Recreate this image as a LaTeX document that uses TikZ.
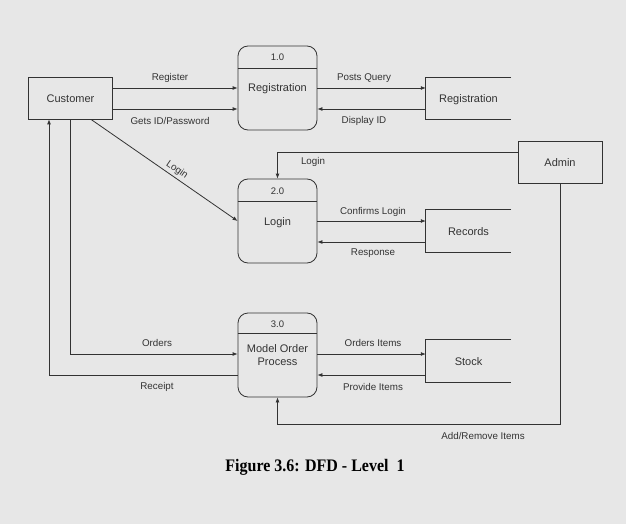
\documentclass[tikz,border=0pt]{standalone}
\usepackage{fontspec}
\setmainfont{Liberation Sans}
\newfontfamily\capfont{Liberation Serif}
\usetikzlibrary{arrows.meta}
\definecolor{bg}{HTML}{E7E7E7}
\definecolor{ln}{HTML}{333333}
\definecolor{txt}{HTML}{333333}
\begin{document}
\begin{tikzpicture}[x=1pt,y=-1pt,
  every node/.style={text=txt, inner sep=0pt},
  entity/.style={draw=ln, line width=0.8pt, minimum width=84pt, minimum height=42pt, font=\fontsize{11}{13}\selectfont},
  store/.style={minimum width=85pt, minimum height=42pt, font=\fontsize{11}{13}\selectfont},
  proc/.style={draw=ln, line width=0.8pt, rounded corners=10pt, minimum width=79pt, minimum height=84pt},
  pnum/.style={font=\fontsize{9.5}{11}\selectfont},
  pname/.style={font=\fontsize{11}{13.5}\selectfont, align=center},
  lbl/.style={font=\fontsize{9.8}{11}\selectfont},
  flow/.style={draw=ln, line width=0.8pt, -{Latex[length=5pt,width=4pt]}},
  edge/.style={draw=ln, line width=0.8pt}]
\fill[bg] (0,0) rectangle (626,524);
\useasboundingbox (0,0) rectangle (626,524);

% external entities
\node[entity] (cust) at (70.5,98) {};
\node[entity, draw=none] (custt) at (70.5,99) {Customer};
\node[entity] (adm) at (560,162) {};
\node[entity, draw=none] (admt) at (560,163) {Admin};

% processes
\node[proc] (p1) at (277.5,88) {};
\draw[edge] (p1.west |- 0,68) -- (p1.east |- 0,68);
\node[pnum] (p1n) at (277.5,57) {1.0};
\node[pname] (p1t) at (277.5,89) {Registration};

\node[proc] (p2) at (277.5,221) {};
\draw[edge] (p2.west |- 0,201) -- (p2.east |- 0,201);
\node[pnum] (p2n) at (277.5,191) {2.0};
\node[pname] (p2t) at (277.5,223) {Login};

\node[proc] (p3) at (277.5,355) {};
\draw[edge] (p3.west |- 0,333) -- (p3.east |- 0,333);
\node[pnum] (p3n) at (277.5,324) {3.0};
\node[pname] (p3t) at (277.5,355) {Model Order\\Process};

% data stores
\node[store] (ds1) at (468.5,98.5) {};
\node[store] (ds1t) at (468.5,99.5) {Registration};
\draw[edge] (ds1.north east) -- (ds1.north west) -- (ds1.south west) -- (ds1.south east);
\node[store] (ds2) at (468.5,231) {};
\node[store] (ds2t) at (468.5,232) {Records};
\draw[edge] (ds2.north east) -- (ds2.north west) -- (ds2.south west) -- (ds2.south east);
\node[store] (ds3) at (468.5,361) {};
\node[store] (ds3t) at (468.5,362) {Stock};
\draw[edge] (ds3.north east) -- (ds3.north west) -- (ds3.south west) -- (ds3.south east);

% flows: registration
\draw[flow] (cust.east |- 0,88) -- (p1.west |- 0,88);
\draw[flow] (cust.east |- 0,109) -- (p1.west |- 0,109);
\draw[flow] (p1.east |- 0,88) -- (ds1.west |- 0,88);
\draw[flow] (ds1.west |- 0,109) -- (p1.east |- 0,109);
\node[lbl] (lreg) at (170,78) {Register};
\node[lbl] (lgid) at (170,120.5) {Gets ID/Password};
\node[lbl] (lpq) at (364,78) {Posts Query};
\node[lbl] (ldid) at (364,120.5) {Display ID};

% flows: login
\draw[flow] (cust.south -| 91,0) -- (p2.west |- 0,221);
\node[lbl, rotate=-34.5] (llog) at (177,170) {Login};
\draw[flow] (adm.west |- 0,152) -- (p2.north |- 0,152) -- (p2.north);
\node[lbl] (lalog) at (313,162) {Login};
\draw[flow] (p2.east |- 0,221) -- (ds2.west |- 0,221);
\draw[flow] (ds2.west |- 0,242) -- (p2.east |- 0,242);
\node[lbl] (lcl) at (373,211.5) {Confirms Login};
\node[lbl] (lrsp) at (373,253.5) {Response};

% flows: orders
\draw[flow] (cust.south) -- (cust.south |- 0,354) -- (p3.west |- 0,354);
\draw[flow] (p3.west |- 0,375) -- (49,375) -- (cust.south -| 49,0);
\node[lbl] (lord) at (157,343) {Orders};
\node[lbl] (lrcp) at (157,387) {Receipt};
\draw[flow] (p3.east |- 0,354) -- (ds3.west |- 0,354);
\draw[flow] (ds3.west |- 0,375) -- (p3.east |- 0,375);
\node[lbl] (loi) at (373,343) {Orders Items};
\node[lbl] (lpi) at (373,387) {Provide Items};
\draw[flow] (adm.south) -- (adm.south |- 0,424) -- (p3.south |- 0,424) -- (p3.south);
\node[lbl] (lari) at (483,436) {Add/Remove Items};

% caption
\node[font=\capfont\bfseries\fontsize{16}{18}\selectfont, text=black, yscale=1.1] (cap) at (315,467) {Figure 3.6: DFD - Level\ \ 1};
\end{tikzpicture}
\end{document}
